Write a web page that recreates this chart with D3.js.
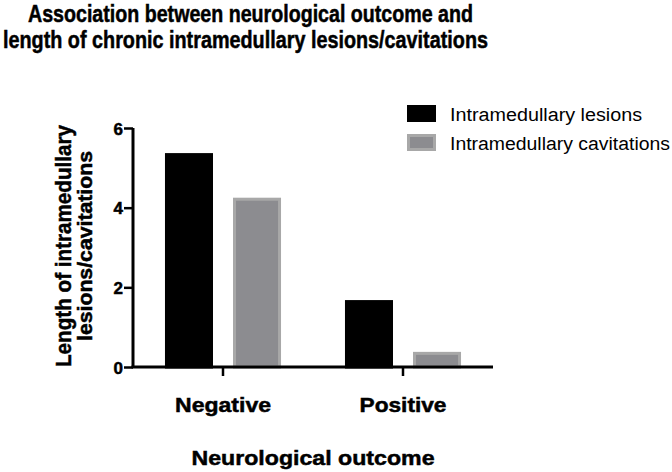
<!DOCTYPE html>
<html><head><meta charset="utf-8">
<script src="https://cdn.jsdelivr.net/npm/d3@7"></script>
<style>body{margin:0;background:#fff}svg{display:block}text{font-family:"Liberation Sans",Arial,sans-serif}text.heavy{stroke:#000;stroke-width:0.5px}</style>
</head><body>
<script>
const categories = ["Negative", "Positive"];
const seriesNames = ["Intramedullary lesions", "Intramedullary cavitations"];
const lesions = [5.37, 1.68];
const cavitations = [4.25, 0.38];
const yTicks = [0, 2, 4, 6];

const W = 672, H = 472;
const svg = d3.select("body").append("svg").attr("width", W).attr("height", H);
const m = {left: 133, right: 493, top: 128, bottom: 367};

const x = d3.scaleBand().domain(categories).range([m.left, m.right]);
const xs = d3.scaleBand().domain(seriesNames).range([0, x.bandwidth()]).paddingInner(0.294).paddingOuter(0.47);
const y = d3.scaleLinear().domain([0, 6]).range([m.bottom, m.top]);

const fills = ["#000000", "#8c8c90"];
const strokes = ["#000000", "#a8a8a8"];
const series = [lesions, cavitations];

series.forEach((vals, si) => {
  svg.append("g").selectAll("rect").data(vals).join("rect")
    .attr("x", (d, i) => x(categories[i]) + xs(seriesNames[si]) + 1.5)
    .attr("width", xs.bandwidth() - 3)
    .attr("y", d => y(d) + 1.5)
    .attr("height", d => y(0) - y(d) - 1.5)
    .attr("fill", fills[si]).attr("stroke", strokes[si]).attr("stroke-width", 3);
});

function fit(sel, len) { sel.attr("textLength", len).attr("lengthAdjust", "spacingAndGlyphs"); }

// Y axis
const ya = svg.append("g").attr("transform", `translate(${m.left},0)`)
  .call(d3.axisLeft(y).tickValues(yTicks).tickFormat(d3.format("d")).tickSize(9).tickPadding(1));
ya.select(".domain").attr("stroke", "#000").attr("stroke-width", 3).attr("d", `M0,${m.top}V${m.bottom}`);
ya.selectAll(".tick line").attr("stroke", "#000").attr("stroke-width", 2.5);
ya.selectAll(".tick text").attr("class", "heavy").attr("font-size", 17).attr("font-weight", "bold").attr("fill", "#000").attr("dy", "0.36em");

// X axis
const xa = svg.append("g").attr("transform", `translate(0,${m.bottom})`)
  .call(d3.axisBottom(x).tickSize(9).tickPadding(20));
xa.select(".domain").attr("stroke", "#000").attr("stroke-width", 3).attr("d", `M${m.left - 1.5},0H${m.right}`);
xa.selectAll(".tick line").attr("stroke", "#000").attr("stroke-width", 2.5);
const xLabelW = {Negative: 96, Positive: 87};
xa.selectAll(".tick text").attr("class", "heavy").attr("font-size", 21).attr("font-weight", "bold").attr("fill", "#000")
  .attr("dy", null).attr("y", 45).each(function(d) { fit(d3.select(this), xLabelW[d]); });

// Axis titles
fit(svg.append("text").attr("class", "heavy").attr("x", 313).attr("y", 465).attr("text-anchor", "middle")
  .attr("font-size", 21).attr("font-weight", "bold").text("Neurological outcome"), 243);
const yt1 = svg.append("text").attr("class", "heavy").attr("transform", `translate(71,246) rotate(-90)`)
  .attr("text-anchor", "middle").attr("font-size", 22).attr("font-weight", "bold").text("Length of intramedullary");
fit(yt1, 242);
const yt2 = svg.append("text").attr("class", "heavy").attr("transform", `translate(92,246) rotate(-90)`)
  .attr("text-anchor", "middle").attr("font-size", 21).attr("font-weight", "bold").text("lesions/cavitations");
fit(yt2, 190);

// Title
fit(svg.append("text").attr("class", "heavy").attr("x", 28).attr("y", 22).attr("font-size", 24).attr("font-weight", "bold")
  .text("Association between neurological outcome and"), 445);
fit(svg.append("text").attr("class", "heavy").attr("x", 3).attr("y", 48).attr("font-size", 24).attr("font-weight", "bold")
  .text("length of chronic intramedullary lesions/cavitations"), 485);

// Legend
const legW = [192, 220];
seriesNames.forEach((s, i) => {
  const yy = 105 + i * 29;
  svg.append("rect").attr("x", 408.5).attr("y", yy + 1.5).attr("width", 26).attr("height", 14)
    .attr("fill", fills[i]).attr("stroke", strokes[i]).attr("stroke-width", 3);
  fit(svg.append("text").attr("x", 450).attr("y", yy + 16).attr("font-size", 18).attr("fill", "#000").text(s), legW[i]);
});
</script>
</body></html>
